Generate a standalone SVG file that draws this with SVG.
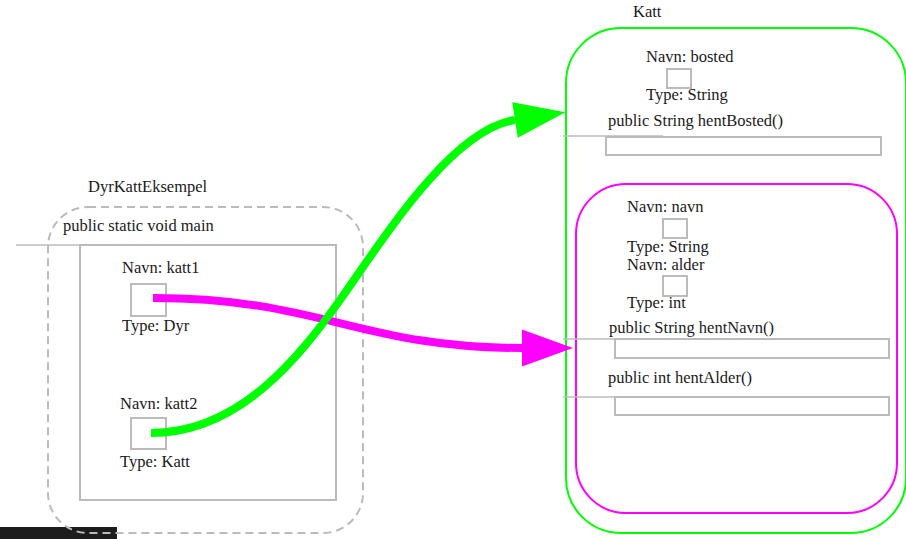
<svg xmlns="http://www.w3.org/2000/svg" width="906" height="539" viewBox="0 0 906 539">
  <style>
    text { font-family: "Liberation Serif", "DejaVu Serif", serif; font-size: 16.5px; fill: #1a1a1a; }
    .frame { fill: none; stroke: #bbbbbb; stroke-width: 2; }
    .slot { fill: #ffffff; stroke: #bbbbbb; stroke-width: 2; }
    .lead { stroke: #bbbbbb; stroke-width: 1.5; }
    .scope { fill: none; stroke: #bbbbbb; stroke-width: 2; stroke-dasharray: 8 5; }
    .klass { fill: none; stroke: #00ff00; stroke-width: 2; }
    .obj { fill: none; stroke: #ff00ff; stroke-width: 2; }
    .ref { fill: none; stroke-width: 8; }
  </style>
  <defs>
    <marker id="headGreen" markerUnits="userSpaceOnUse" viewBox="0 -20 52 40" refX="0" refY="0" markerWidth="52" markerHeight="40" orient="auto" overflow="visible">
      <path d="M0,-18 L51,0 L0,18 z" fill="#00ff00"/>
    </marker>
    <marker id="headMagenta" markerUnits="userSpaceOnUse" viewBox="0 -20 52 40" refX="0" refY="0" markerWidth="52" markerHeight="40" orient="auto" overflow="visible">
      <path d="M0,-18.5 L51,0 L0,18.5 z" fill="#ff00ff"/>
    </marker>
  </defs>

  <rect x="0" y="527" width="117" height="12" fill="#1c1c1c"/>

  <!-- class DyrKattEksempel with its main method -->
  <g id="DyrKattEksempel">
    <text x="88" y="192">DyrKattEksempel</text>
    <rect class="scope" x="48" y="207" width="315" height="326" rx="40"/>
    <g id="main">
      <text x="63" y="231">public static void main</text>
      <rect class="frame" x="80" y="245" width="256" height="255"/>
      <line class="lead" x1="16" y1="245" x2="116" y2="245"/>
    </g>
    <g id="katt1">
      <text x="122" y="273">Navn: katt1</text>
      <rect class="slot" x="131" y="284" width="35" height="32"/>
      <text x="122" y="331">Type: Dyr</text>
    </g>
    <g id="katt2">
      <text x="120" y="409">Navn: katt2</text>
      <rect class="slot" x="131" y="418" width="35" height="31"/>
      <text x="120" y="467">Type: Katt</text>
    </g>
  </g>

  <!-- class Katt -->
  <g id="Katt">
    <text x="633" y="17">Katt</text>
    <rect class="klass" x="566" y="28" width="340" height="505" rx="55"/>
    <g id="bosted">
      <text x="646" y="62">Navn: bosted</text>
      <rect class="slot" x="667" y="69" width="24" height="19"/>
      <text x="646" y="100">Type: String</text>
    </g>
    <g id="hentBosted">
      <text x="608" y="126">public String hentBosted()</text>
      <rect class="frame" x="606" y="137" width="275" height="18"/>
      <line class="lead" x1="563" y1="136" x2="663" y2="136"/>
    </g>
  </g>

  <!-- inherited part (Dyr) -->
  <g id="Dyr">
    <rect class="obj" x="576" y="184" width="321" height="329" rx="50"/>
    <g id="navn">
      <text x="627" y="212">Navn: navn</text>
      <rect class="slot" x="663" y="219" width="24" height="19"/>
      <text x="627" y="252">Type: String</text>
    </g>
    <g id="alder">
      <text x="627" y="270">Navn: alder</text>
      <rect class="slot" x="663" y="276" width="24" height="20"/>
      <text x="627" y="308">Type: int</text>
    </g>
    <g id="hentNavn">
      <text x="609" y="333">public String hentNavn()</text>
      <rect class="frame" x="615" y="339" width="274" height="19"/>
      <line class="lead" x1="563" y1="339" x2="663" y2="339"/>
    </g>
    <g id="hentAlder">
      <text x="608" y="383">public int hentAlder()</text>
      <rect class="frame" x="615" y="397" width="274" height="18"/>
      <line class="lead" x1="563" y1="397" x2="663" y2="397"/>
    </g>
  </g>

  <!-- references -->
  <g id="connectors">
    <path class="ref" stroke="#ff00ff" marker-end="url(#headMagenta)" d="M153,298 C320,298 360,348 522,348"/>
    <path class="ref" stroke="#00ff00" marker-end="url(#headGreen)" d="M151,433 C240,433 300,356 340,300 C380,244 450,130 515,120"/>
  </g>
</svg>
